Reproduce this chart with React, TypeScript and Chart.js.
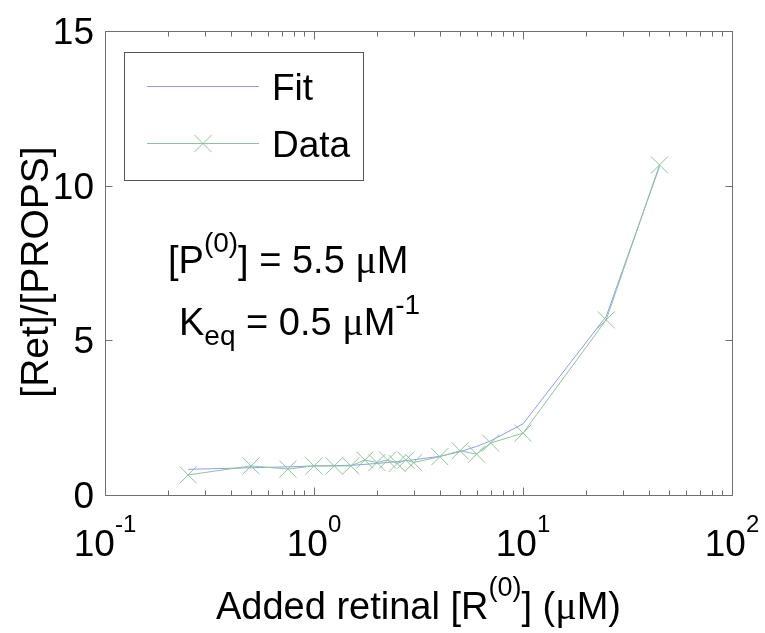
import React, { useEffect, useRef } from "react";
import { Chart, registerables } from "chart.js";

Chart.register(...registerables);

// ---- data ----
const retinalConc = [0.25, 0.5, 0.75, 1, 1.25, 1.5, 1.75, 2, 2.25, 2.5, 2.75, 3, 4, 5, 6, 7, 10, 25, 45];
const fitRatio = [0.83, 0.88, 0.91, 0.94, 0.95, 0.96, 0.99, 1.02, 1.05, 1.08, 1.11, 1.14, 1.25, 1.4, 1.57, 1.75, 2.3, 5.77, 10.62];
const dataRatio = [0.65, 0.94, 0.84, 0.94, 0.94, 0.94, 1.13, 1.05, 1.13, 1.02, 1.13, 1.05, 1.24, 1.43, 1.32, 1.68, 2.0, 5.66, 10.67];
const seriesLabels = ["Fit", "Data"];
const xDecades = [0.1, 1, 10, 100];
const xExponents = ["-1", "0", "1", "2"];
const xMinorMultipliers = [2, 3, 4, 5, 6, 7, 8, 9];
const yTickValues = [0, 5, 10, 15];
const yTickLabels = ["0", "5", "10", "15"];

const FIT_COLOR = "#939bf2";
const DATA_COLOR = "#8cc49b";
const AXIS_COLOR = "#707070";
const SANS = '"Liberation Sans", Arial, sans-serif';
const SERIF = '"Liberation Serif", "Times New Roman", serif';

type Seg = { t: string; size: number; dy?: number; serif?: boolean };

function segFont(s: Seg) {
  return `${s.size}px ${s.serif ? SERIF : SANS}`;
}
function measureSegs(ctx: CanvasRenderingContext2D, segs: Seg[]) {
  let w = 0;
  for (const s of segs) {
    ctx.font = segFont(s);
    w += ctx.measureText(s.t).width;
  }
  return w;
}
function drawSegs(ctx: CanvasRenderingContext2D, segs: Seg[], x: number, y: number, align: "left" | "center" | "right") {
  const w = measureSegs(ctx, segs);
  let cx = align === "left" ? x : align === "center" ? x - w / 2 : x - w;
  ctx.textAlign = "left";
  ctx.textBaseline = "alphabetic";
  for (const s of segs) {
    ctx.font = segFont(s);
    ctx.fillText(s.t, cx, y + (s.dy || 0));
    cx += ctx.measureText(s.t).width;
  }
}

function drawCross(ctx: CanvasRenderingContext2D, x: number, y: number, h: number) {
  ctx.moveTo(x - h, y - h);
  ctx.lineTo(x + h, y + h);
  ctx.moveTo(x - h, y + h);
  ctx.lineTo(x + h, y - h);
}

const matlabFrame = {
  id: "matlabFrame",
  afterDraw(chart: any) {
    const { ctx, chartArea: a, scales } = chart;
    const xs = scales.x;
    const ys = scales.y;
    const L = Math.round(a.left) + 0.5;
    const R = Math.round(a.right) + 0.5;
    const T = Math.round(a.top) + 0.5;
    const B = Math.round(a.bottom) + 0.5;
    ctx.save();

    // box
    ctx.strokeStyle = AXIS_COLOR;
    ctx.lineWidth = 1;
    ctx.strokeRect(L, T, R - L, B - T);

    // x ticks (inward, bottom and top)
    ctx.beginPath();
    const xTick = (v: number, len: number) => {
      const p = Math.round(xs.getPixelForValue(v)) + 0.5;
      ctx.moveTo(p, B);
      ctx.lineTo(p, B - len);
      ctx.moveTo(p, T);
      ctx.lineTo(p, T + len);
    };
    xDecades.forEach((d, i) => {
      xTick(d, 8);
      if (i < xDecades.length - 1) xMinorMultipliers.forEach((m) => xTick(d * m, 5));
    });
    // y ticks (inward, left and right)
    yTickValues.forEach((v) => {
      const p = Math.round(ys.getPixelForValue(v)) + 0.5;
      ctx.moveTo(L, p);
      ctx.lineTo(L + 7, p);
      ctx.moveTo(R, p);
      ctx.lineTo(R - 7, p);
    });
    ctx.stroke();

    ctx.fillStyle = "#000";
    // x tick labels
    xDecades.forEach((d, i) => {
      const p = xs.getPixelForValue(d);
      drawSegs(ctx, [
        { t: "10", size: 37 },
        { t: xExponents[i], size: 24, dy: -24 },
      ], p, a.bottom + 61, "center");
    });
    // y tick labels
    yTickValues.forEach((v, i) => {
      const p = ys.getPixelForValue(v);
      drawSegs(ctx, [{ t: yTickLabels[i], size: 37 }], a.left - 11, p + 13, "right");
    });

    // x axis title
    drawSegs(ctx, [
      { t: "Added retinal [R", size: 38 },
      { t: "(0)", size: 27, dy: -23 },
      { t: "] (", size: 38 },
      { t: "\u03bc", size: 40, serif: true },
      { t: "M)", size: 38 },
    ], (a.left + a.right) / 2, 619, "center");

    // y axis title
    ctx.save();
    ctx.translate(48, 272);
    ctx.rotate(-Math.PI / 2);
    drawSegs(ctx, [{ t: "[Ret]/[PROPS]", size: 39 }], 0, 0, "center");
    ctx.restore();

    // annotations
    drawSegs(ctx, [
      { t: "[P", size: 38 },
      { t: "(0)", size: 28, dy: -21 },
      { t: "] = 5.5 ", size: 38 },
      { t: "\u03bc", size: 40, serif: true },
      { t: "M", size: 38 },
    ], 168, 273, "left");
    drawSegs(ctx, [
      { t: "K", size: 38 },
      { t: "eq", size: 28, dy: 10 },
      { t: " = 0.5 ", size: 38 },
      { t: "\u03bc", size: 40, serif: true },
      { t: "M", size: 38 },
      { t: "-1", size: 28, dy: -21 },
    ], 179, 335, "left");

    // legend
    ctx.strokeStyle = "#555";
    ctx.lineWidth = 1;
    ctx.strokeRect(124.5, 52.5, 239, 128);
    const ds = chart.data.datasets;
    const rows = [86, 143];
    seriesLabels.forEach((lab, i) => {
      const d = ds[i];
      const y = rows[i] + 0.5;
      ctx.beginPath();
      ctx.strokeStyle = d.borderColor;
      ctx.lineWidth = 1;
      ctx.moveTo(147, y);
      ctx.lineTo(259, y);
      if (d.pointRadius > 0) drawCross(ctx, 203, y, d.pointRadius * Math.SQRT1_2);
      ctx.stroke();
      ctx.fillStyle = "#000";
      drawSegs(ctx, [{ t: lab, size: 37 }], 272, rows[i] + 14, "left");
    });

    ctx.restore();
  },
};

export default function App() {
  const canvasRef = useRef<HTMLCanvasElement | null>(null);

  useEffect(() => {
    const canvas = canvasRef.current;
    if (!canvas) return;
    const chart = new Chart(canvas, {
      type: "line",
      data: {
        datasets: [
          {
            label: seriesLabels[0],
            data: retinalConc.map((x, i) => ({ x, y: fitRatio[i] })),
            borderColor: FIT_COLOR,
            backgroundColor: FIT_COLOR,
            borderWidth: 1,
            pointRadius: 0,
            tension: 0,
            order: 1,
          },
          {
            label: seriesLabels[1],
            data: retinalConc.map((x, i) => ({ x, y: dataRatio[i] })),
            borderColor: DATA_COLOR,
            backgroundColor: "transparent",
            borderWidth: 1,
            pointStyle: "crossRot",
            pointRadius: 12,
            pointBorderWidth: 1,
            pointBorderColor: DATA_COLOR,
            tension: 0,
            order: 0,
          },
        ],
      },
      options: {
        animation: false,
        responsive: false,
        layout: { padding: { left: 105, top: 31, right: 33, bottom: 138 } },
        plugins: { legend: { display: false }, tooltip: { enabled: false } },
        scales: {
          x: { type: "logarithmic", min: 0.1, max: 100, display: false },
          y: { type: "linear", min: 0, max: 15, display: false },
        },
      },
      plugins: [matlabFrame],
    });
    return () => chart.destroy();
  }, []);

  return (
    <div style={{ position: "absolute", left: 0, top: 0, width: 765, height: 633, background: "#fff" }}>
      <canvas ref={canvasRef} width={765} height={633} style={{ display: "block" }} />
    </div>
  );
}
